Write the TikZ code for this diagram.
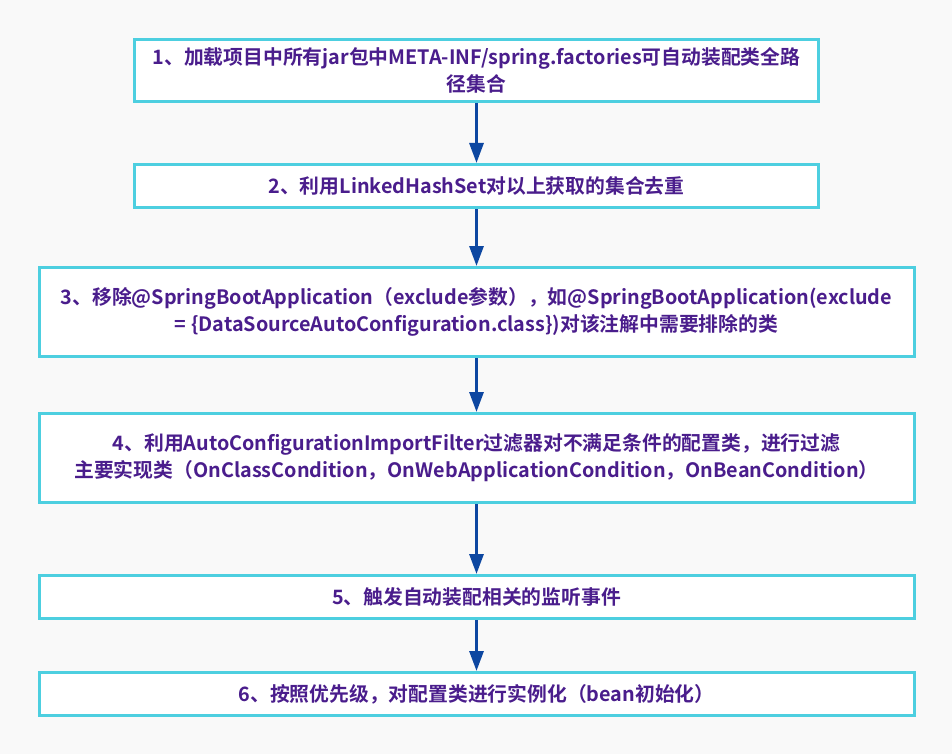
\documentclass[tikz,border=0pt]{standalone}
\usepackage{fontspec}
\setmainfont{Noto Sans CJK SC}[BoldFont={Noto Sans CJK SC Bold}]
\usetikzlibrary{positioning,arrows.meta}
\definecolor{bgcol}{HTML}{F9F9F9}
\definecolor{boxcol}{HTML}{4DCFE0}
\definecolor{txtcol}{HTML}{4A1D8C}
\definecolor{arrcol}{HTML}{0D47A1}

\begin{document}
\begin{tikzpicture}[
x=1pt,y=1pt,
every node/.style={
draw=boxcol,
line width=3pt,
fill=white,
minimum width=875pt,
minimum height=43pt,
align=center,
text=txtcol,
font=\fontsize{19.8}{27}\selectfont\bfseries
},
>={Triangle[width=14pt,length=20pt]}
]

\fill[bgcol] (0,0) rectangle (952,-754);

\node (load) [minimum width=684pt,minimum height=62pt] at (476.5,-70.5)
{1、加载项目中所有jar包中META-INF/spring.factories可自动装配类全路\\径集合};

\node (dedup) [minimum width=684pt,below=60pt of load]
{2、利用LinkedHashSet对以上获取的集合去重};

\node (exclude) [minimum height=89pt,below=57pt of dedup]
{3、移除@SpringBootApplication（exclude参数），如@SpringBootApplication(exclude\\= \{DataSourceAutoConfiguration.class\})对该注解中需要排除的类};

\node (filter) [minimum height=89pt,below=54pt of exclude]
{4、利用AutoConfigurationImportFilter过滤器对不满足条件的配置类，进行过滤\\主要实现类（OnClassCondition，OnWebApplicationCondition，OnBeanCondition）};

\node (event) [below=70pt of filter]
{5、触发自动装配相关的监听事件};

\node (init) [below=51pt of event]
{6、按照优先级，对配置类进行实例化（bean初始化）};

\draw[->,arrcol,line width=3pt] (load)--(dedup);
\draw[->,arrcol,line width=3pt] (dedup)--(exclude);
\draw[->,arrcol,line width=3pt] (exclude)--(filter);
\draw[->,arrcol,line width=3pt] (filter)--(event);
\draw[->,arrcol,line width=3pt] (event)--(init);

\end{tikzpicture}
\end{document}
